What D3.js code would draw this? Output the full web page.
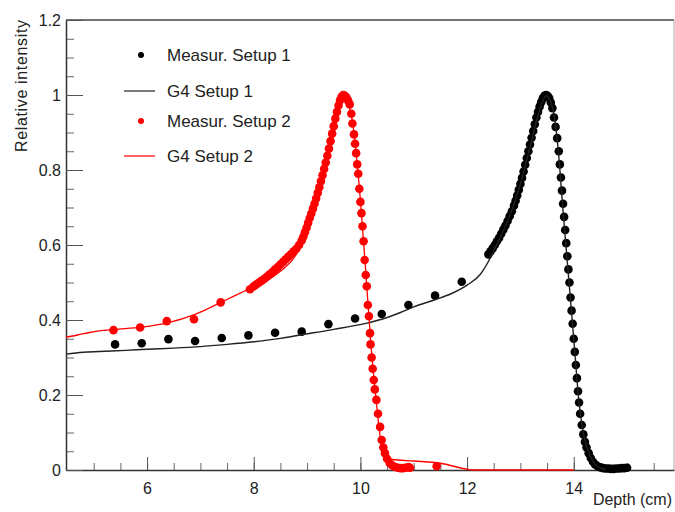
<!DOCTYPE html>
<html>
<head>
<meta charset="utf-8">
<script src="https://cdnjs.cloudflare.com/ajax/libs/d3/7.8.5/d3.min.js"></script>
<style>
  body { margin: 0; background: #fff; }
  text { font-family: "Liberation Sans", Arial, Helvetica, sans-serif; fill: #222; }
</style>
</head>
<body>
<div id="viz"></div>
<script>
// measured depth dose, setup 1 (black points)
var meas1X = [5.4, 5.9, 6.4, 6.9, 7.4, 7.9, 8.4, 8.9, 9.4, 9.9, 10.4, 10.9, 11.4, 11.9,
  12.40, 12.44, 12.48, 12.52, 12.56, 12.60, 12.64, 12.68, 12.72, 12.76, 12.80, 12.84,
  12.88, 12.91, 12.94, 12.97, 13.00, 13.03, 13.06, 13.09, 13.12, 13.15, 13.18, 13.21,
  13.24, 13.27, 13.30, 13.33, 13.36, 13.39, 13.42, 13.45, 13.48, 13.51, 13.54, 13.57,
  13.60, 13.63, 13.66, 13.69, 13.72, 13.74, 13.76, 13.78, 13.80, 13.82, 13.84, 13.86,
  13.88, 13.90, 13.92, 13.94, 13.96, 13.98, 14.00, 14.02, 14.04, 14.06, 14.08, 14.10,
  14.12, 14.15, 14.18, 14.21, 14.24, 14.28, 14.32, 14.36, 14.40, 14.45, 14.50, 14.55,
  14.60, 14.65, 14.70, 14.75, 14.80, 14.85, 14.90, 14.95, 15.00];
var meas1Y = [0.335, 0.338, 0.349, 0.344, 0.352, 0.359, 0.366, 0.369, 0.389, 0.404, 0.416, 0.440, 0.465, 0.502,
  0.575, 0.583, 0.591, 0.600, 0.610, 0.619, 0.630, 0.641, 0.652, 0.664, 0.677, 0.690,
  0.705, 0.718, 0.732, 0.747, 0.763, 0.779, 0.796, 0.814, 0.832, 0.850, 0.868, 0.886,
  0.904, 0.922, 0.940, 0.955, 0.969, 0.981, 0.991, 0.998, 1.000, 0.998, 0.992, 0.980,
  0.965, 0.940, 0.915, 0.885, 0.850, 0.815, 0.780, 0.745, 0.710, 0.675, 0.640, 0.605,
  0.570, 0.535, 0.500, 0.460, 0.425, 0.390, 0.350, 0.315, 0.280, 0.245, 0.210, 0.180,
  0.150, 0.120, 0.095, 0.075, 0.060, 0.045, 0.032, 0.022, 0.015, 0.010, 0.007, 0.005,
  0.004, 0.004, 0.003, 0.003, 0.004, 0.004, 0.005, 0.005, 0.006];

// Geant4 simulation, setup 1
var g4X1 = [4.48, 4.8, 5.1, 5.6, 6.0, 6.5, 7.0, 7.5, 8.0, 8.5, 8.87, 9.5, 10.1, 10.4, 10.75,
  11.0, 11.4, 11.7, 12.0, 12.25, 12.4, 12.5, 12.75, 13.0, 13.2, 13.35, 13.48, 13.6, 13.7,
  13.8, 13.9, 14.0, 14.1, 14.2, 14.3, 14.4, 14.5, 14.6];
var g4Y1 = [0.309, 0.314, 0.316, 0.319, 0.322, 0.325, 0.329, 0.335, 0.342, 0.351, 0.360, 0.375, 0.391, 0.402, 0.420,
  0.435, 0.454, 0.470, 0.493, 0.522, 0.556, 0.585, 0.660, 0.762, 0.872, 0.955, 0.998, 0.968, 0.868,
  0.690, 0.520, 0.350, 0.180, 0.085, 0.040, 0.015, 0.005, 0.002];

// measured depth dose, setup 2 (red points)
var meas2X = [5.37, 5.87, 6.37, 6.88, 7.38, 7.93,
  8.00, 8.05, 8.10, 8.15, 8.20, 8.25, 8.30, 8.35, 8.40, 8.45, 8.50, 8.55, 8.60, 8.65,
  8.70, 8.75, 8.80, 8.85, 8.90, 8.93, 8.96, 8.99, 9.02, 9.05, 9.08, 9.11, 9.14, 9.17,
  9.20, 9.23, 9.26, 9.29, 9.32, 9.35, 9.38, 9.41, 9.44, 9.47, 9.50, 9.53, 9.56, 9.59,
  9.62, 9.65, 9.68, 9.71, 9.74, 9.77, 9.80, 9.83, 9.85, 9.88, 9.90, 9.92,
  9.94, 9.96, 9.98, 10.00, 10.02, 10.04, 10.06, 10.08, 10.10, 10.12, 10.14, 10.16, 10.18,
  10.19, 10.21, 10.23, 10.25, 10.27, 10.30, 10.33, 10.37, 10.40, 10.43, 10.46, 10.50,
  10.55, 10.60, 10.65, 10.70, 10.75, 10.80, 10.85, 10.90, 10.93, 11.43];
var meas2Y = [0.373, 0.380, 0.397, 0.402, 0.447, 0.482,
  0.490, 0.495, 0.500, 0.505, 0.510, 0.516, 0.522, 0.528, 0.535, 0.541, 0.548, 0.555, 0.562, 0.569,
  0.576, 0.583, 0.590, 0.600, 0.612, 0.622, 0.634, 0.646, 0.659, 0.672, 0.684, 0.697, 0.710, 0.724,
  0.739, 0.754, 0.770, 0.786, 0.803, 0.820, 0.838, 0.857, 0.877, 0.897, 0.917, 0.937, 0.955, 0.972,
  0.986, 0.996, 1.000, 0.998, 0.993, 0.985, 0.975, 0.950, 0.924, 0.895, 0.870, 0.845,
  0.815, 0.790, 0.750, 0.715, 0.685, 0.650, 0.610, 0.560, 0.520, 0.490, 0.440, 0.410, 0.365,
  0.335, 0.300, 0.270, 0.240, 0.215, 0.187, 0.150, 0.115, 0.080, 0.060, 0.045, 0.030,
  0.018, 0.012, 0.008, 0.006, 0.005, 0.005, 0.006, 0.008, 0.006, 0.010];

// Geant4 simulation, setup 2
var g4X2 = [4.48, 4.7, 4.9, 5.1, 5.4, 5.9, 6.4, 6.9, 7.4, 7.9, 8.25, 8.5, 8.75, 9.0, 9.25, 9.5,
  9.6, 9.68, 9.75, 9.85, 10.0, 10.1, 10.2, 10.3, 10.4, 10.45, 10.6, 11.0, 11.5, 12.0, 12.1, 14.0];
var g4Y2 = [0.354, 0.360, 0.366, 0.371, 0.375, 0.381, 0.393, 0.415, 0.448, 0.482, 0.505, 0.530, 0.565, 0.630, 0.745, 0.900,
  0.970, 1.000, 0.985, 0.930, 0.720, 0.530, 0.330, 0.180, 0.060, 0.035, 0.028, 0.024, 0.018, 0.002, 0.000, 0.000];

var xMajor = [6, 8, 10, 12, 14];
var yMajor = [0, 0.2, 0.4, 0.6, 0.8, 1, 1.2];
var legendLabels = ["Measur. Setup 1", "G4 Setup 1", "Measur. Setup 2", "G4 Setup 2"];

var width = 675, height = 512;

var svg = d3.select("#viz").append("svg")
  .attr("width", width)
  .attr("height", height);

var x = d3.scaleLinear().domain([4.48, 15.88]).range([66, 674]);
var y = d3.scaleLinear().domain([0, 1.2]).range([470, 20]);

// frame (top and right)
svg.append("line").attr("x1", 66).attr("x2", 674).attr("y1", 20).attr("y2", 20)
  .attr("stroke", "#444").attr("stroke-width", 1.5);
svg.append("line").attr("x1", 674).attr("x2", 674).attr("y1", 20).attr("y2", 470)
  .attr("stroke", "#aaa").attr("stroke-width", 1);

// minor ticks
svg.append("g").attr("transform", "translate(0,470)")
  .call(d3.axisBottom(x).tickValues(d3.range(5, 16, 0.5)).tickSize(-7).tickFormat(""))
  .call(function (g) { g.select(".domain").remove(); g.selectAll("line").attr("stroke", "#666"); });
svg.append("g").attr("transform", "translate(66,0)")
  .call(d3.axisLeft(y).tickValues(d3.range(0.05, 1.2, 0.05)).tickSize(-8).tickFormat(""))
  .call(function (g) { g.select(".domain").remove(); g.selectAll("line").attr("stroke", "#666"); });

// major axes
var xAxis = svg.append("g").attr("transform", "translate(0,470)")
  .call(d3.axisBottom(x).tickValues(xMajor).tickSize(-13).tickSizeOuter(0).tickPadding(13));
var yAxis = svg.append("g").attr("transform", "translate(66,0)")
  .call(d3.axisLeft(y).tickValues(yMajor).tickSize(-17).tickSizeOuter(0).tickPadding(5).tickFormat(d3.format("~g")));

[xAxis, yAxis].forEach(function (g) {
  g.select(".domain").attr("stroke", "#333").attr("stroke-width", 1.5);
  g.selectAll(".tick line").attr("stroke", "#555");
  g.selectAll(".tick text").style("font-size", "16px").attr("fill", "#2a2a2a");
});

// axis titles
svg.append("text").attr("x", 672).attr("y", 505)
  .attr("text-anchor", "end").style("font-size", "16px").text("Depth (cm)");
svg.append("text").attr("transform", "translate(27,20) rotate(-90)")
  .attr("text-anchor", "end").style("font-size", "16px").attr("textLength", 132)
  .text("Relative intensity");

var line = d3.line()
  .x(function (d) { return x(d[0]); })
  .y(function (d) { return y(d[1]); });

// setup 1
svg.append("g").selectAll("circle")
  .data(d3.zip(meas1X, meas1Y)).enter().append("circle")
  .attr("cx", function (d) { return x(d[0]); })
  .attr("cy", function (d) { return y(d[1]); })
  .attr("r", 4.3)
  .attr("fill", "#000");
svg.append("path").datum(d3.zip(g4X1, g4Y1))
  .attr("d", line.curve(d3.curveMonotoneX)).attr("fill", "none").attr("stroke", "#222").attr("stroke-width", 1.4);

// setup 2
svg.append("g").selectAll("circle")
  .data(d3.zip(meas2X, meas2Y)).enter().append("circle")
  .attr("cx", function (d) { return x(d[0]); })
  .attr("cy", function (d) { return y(d[1]); })
  .attr("r", 4.3)
  .attr("fill", "#ff0000");
svg.append("path").datum(d3.zip(g4X2, g4Y2))
  .attr("d", line.curve(d3.curveMonotoneX)).attr("fill", "none").attr("stroke", "#ff0000").attr("stroke-width", 1.3);

// legend
var colors = ["#000", "#222", "#ff0000", "#ff0000"];
var legend = svg.append("g");
legendLabels.forEach(function (lab, i) {
  var ly = [55, 91, 121, 156][i];
  if (i % 2 === 0) {
    legend.append("circle").attr("cx", 141).attr("cy", ly).attr("r", 3).attr("fill", colors[i]);
  } else {
    legend.append("line").attr("x1", 124).attr("x2", 155).attr("y1", ly).attr("y2", ly)
      .attr("stroke", colors[i]).attr("stroke-width", 1.2);
  }
  legend.append("text").attr("x", 167).attr("y", ly).attr("dy", "0.35em")
    .style("font-size", "17px").text(lab);
});
</script>
</body>
</html>
